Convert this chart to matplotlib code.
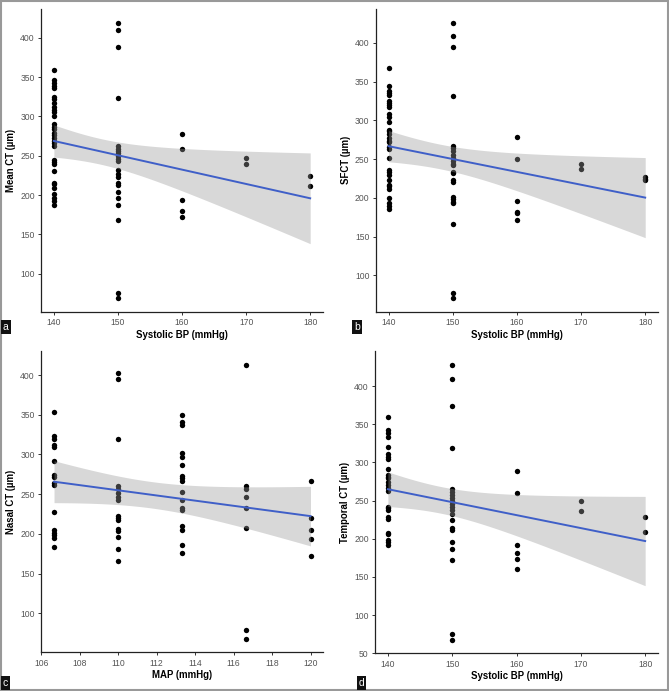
import matplotlib
matplotlib.use("Agg")
import matplotlib.pyplot as plt
from matplotlib.patches import Rectangle
import numpy as np

plt.rcParams['font.family'] = ['Liberation Sans', 'DejaVu Sans']

#----data
sbp_levels = [140, 150, 160, 170, 180]
map_levels = [106.67, 110.0, 113.33, 116.67, 120.0]
sbp_ticks = [140, 150, 160, 170, 180]
map_ticks = [106, 108, 110, 112, 114, 116, 118, 120]

mean_ct = [
    [359, 346, 343, 339, 336, 325, 322, 317, 312, 308, 306, 300, 290, 287, 284, 279,
     276, 273, 269, 266, 262, 245, 242, 240, 231, 216, 214, 209, 201, 196, 193, 187],
    [419, 410, 388, 323, 262, 258, 256, 253, 250, 246, 243, 232, 227, 223, 216, 213,
     204, 196, 187, 168, 76, 69],
    [278, 259, 194, 180, 172],
    [247, 240],
    [224, 212],
]
sfct = [
    [368, 345, 338, 335, 333, 325, 323, 320, 317, 308, 305, 298, 288, 286, 283, 277,
     274, 272, 266, 263, 251, 236, 233, 230, 223, 217, 215, 211, 200, 193, 189, 186],
    [426, 409, 395, 331, 267, 265, 261, 255, 252, 248, 244, 242, 234, 232, 223, 220,
     201, 198, 195, 193, 166, 78, 71],
    [278, 250, 196, 182, 180, 172],
    [244, 237],
    [227, 225, 223],
]
nasal_ct = [
    [353, 323, 320, 312, 309, 292, 274, 271, 264, 261, 227, 205, 201, 198, 195, 183],
    [402, 395, 320, 260, 256, 252, 246, 243, 223, 220, 218, 206, 204, 196, 181, 166],
    [350, 341, 337, 302, 297, 287, 273, 270, 266, 253, 243, 232, 230, 210, 205, 186, 176],
    [413, 260, 256, 247, 232, 207, 79, 68],
    [266, 220, 205, 193, 172],
]
temporal_ct = [
    [360, 342, 338, 334, 320, 311, 307, 305, 292, 284, 281, 279, 274, 271, 267, 263,
     242, 240, 238, 229, 226, 208, 206, 199, 196, 192],
    [428, 409, 374, 319, 265, 261, 258, 253, 249, 245, 242, 238, 233, 225, 214, 211,
     196, 187, 172, 75, 68],
    [289, 260, 192, 181, 173, 161],
    [249, 237],
    [228, 209],
]

panels = [
    ("a", sbp_levels, mean_ct, "Mean CT (\u00b5m)", "Systolic BP (mmHg)", sbp_ticks),
    ("b", sbp_levels, sfct, "SFCT (\u00b5m)", "Systolic BP (mmHg)", sbp_ticks),
    ("c", map_levels, nasal_ct, "Nasal CT (\u00b5m)", "MAP (mmHg)", map_ticks),
    ("d", sbp_levels, temporal_ct, "Temporal CT (\u00b5m)", "Systolic BP (mmHg)", sbp_ticks),
]

# axes boxes in figure fractions
boxes = {
    "a": [0.0613, 0.5485, 0.4215, 0.4385],
    "b": [0.5616, 0.5489, 0.4220, 0.4381],
    "c": [0.0613, 0.0560, 0.4220, 0.4360],
    "d": [0.5605, 0.0546, 0.4231, 0.4374],
}
tags = {"a": (0.004, 0.520), "b": (0.529, 0.520), "c": (0.004, 0.004), "d": (0.536, 0.004)}


def t975(df):
    z = 1.959964
    return z + (z**3 + z) / (4 * df) + (5 * z**5 + 16 * z**3 + 3 * z) / (96 * df**2)


fig = plt.figure(figsize=(6.69, 6.91), dpi=100)

for tag, levels, groups, ylab, xlab, xticks in panels:
    ax = fig.add_axes(boxes[tag])
    xs = np.concatenate([[lv] * len(g) for lv, g in zip(levels, groups)])
    ys = np.concatenate([np.array(g, dtype=float) for g in groups])

    ax.scatter(xs, ys, s=15, color="black", linewidths=0, zorder=2)

    # linear fit with 95% band (like geom_smooth(method="lm"))
    n = len(xs)
    b1, b0 = np.polyfit(xs, ys, 1)
    resid = ys - (b0 + b1 * xs)
    s = np.sqrt(np.sum(resid**2) / (n - 2))
    xg = np.linspace(xs.min(), xs.max(), 80)
    yg = b0 + b1 * xg
    se = s * np.sqrt(1 / n + (xg - xs.mean())**2 / np.sum((xs - xs.mean())**2))
    tq = t975(n - 2)
    ax.fill_between(xg, yg - tq * se, yg + tq * se, color="#999999", alpha=0.38,
                    linewidth=0, zorder=3)
    ax.plot(xg, yg, color="#3F5FC8", lw=1.4, zorder=4)

    #----limits with 5% expansion
    xr = xs.max() - xs.min()
    ax.set_xlim(xs.min() - 0.05 * xr - 0.01, xs.max() + 0.05 * xr)
    ylo = min(ys.min(), (yg - tq * se).min())
    yhi = max(ys.max(), (yg + tq * se).max())
    yr = yhi - ylo
    ax.set_ylim(ylo - 0.05 * yr, yhi + 0.05 * yr)
    ax.set_xticks(xticks)
    ax.set_yticks([v for v in range(50, 451, 50) if ylo - 0.05 * yr <= v <= yhi + 0.05 * yr])

    for sp in ["top", "right"]:
        ax.spines[sp].set_visible(False)
    for sp in ["left", "bottom"]:
        ax.spines[sp].set_color("#222222")
        ax.spines[sp].set_linewidth(0.9)
    ax.tick_params(direction="out", length=2.5, width=0.7, color="#333333",
                   labelsize=6.2, labelcolor="#555555", pad=2)
    ax.set_xlabel(xlab, fontsize=6.9, fontweight="bold", labelpad=2)
    ax.set_ylabel(ylab, fontsize=6.9, fontweight="bold", labelpad=3)

    tx, ty = tags[tag]
    fig.text(tx, ty, tag, fontsize=7.5, color="white", ha="left", va="bottom",
             bbox=dict(boxstyle="square,pad=0.2", fc="#111111", ec="none"))

#----outer frame
fig.patches.append(Rectangle((0.001, 0.001), 0.997, 0.997, transform=fig.transFigure,
                             fill=False, ec="#999999", lw=1.5))

fig.savefig("out.png", dpi=100)
